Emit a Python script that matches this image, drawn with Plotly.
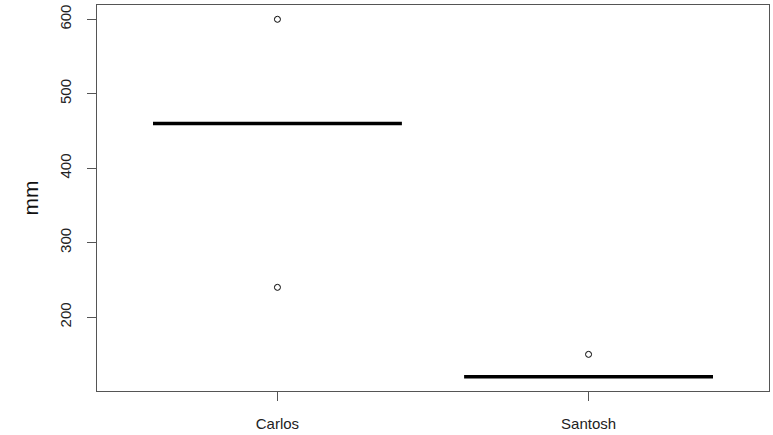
import plotly.graph_objects as go

categories = ["Carlos", "Santosh"]
medians = [460, 120]
outliers = [[600, 240], [150]]
y_ticks = [200, 300, 400, 500, 600]
box_width = 0.8

fig = go.Figure()

for i, (cat, med, outs) in enumerate(zip(categories, medians, outliers)):
    x = i + 1
    fig.add_trace(go.Scatter(
        x=[x - box_width / 2, x + box_width / 2], y=[med, med],
        mode="lines", line=dict(color="black", width=3.5),
        showlegend=False, hoverinfo="skip"))
    fig.add_trace(go.Scatter(
        x=[x] * len(outs), y=outs, mode="markers",
        marker=dict(symbol="circle-open", size=6, color="black",
                    line=dict(width=1, color="black")),
        showlegend=False))

font = "Liberation Sans, Arial, sans-serif"
axis_common = dict(showline=True, mirror=True, linecolor="#555555", linewidth=1,
                   ticks="outside", ticklen=9, tickcolor="#555555", tickwidth=1,
                   showgrid=False, zeroline=False)

fig.update_layout(
    width=773, height=435,
    margin=dict(l=97, r=3, t=5, b=42),
    plot_bgcolor="white", paper_bgcolor="white",
    font=dict(family=font, size=15, color="#222222"),
    xaxis=dict(range=[0.42, 2.58], tickvals=[1, 2], ticktext=categories,
               ticklabelstandoff=10, **axis_common),
    yaxis=dict(range=[100.8, 619.2], tickvals=y_ticks, tickangle=-90,
               ticklabelstandoff=10,
               title=dict(text="mm", font=dict(size=21, color="#111111"), standoff=12),
               **axis_common),
)

fig.write_html("out.html")
